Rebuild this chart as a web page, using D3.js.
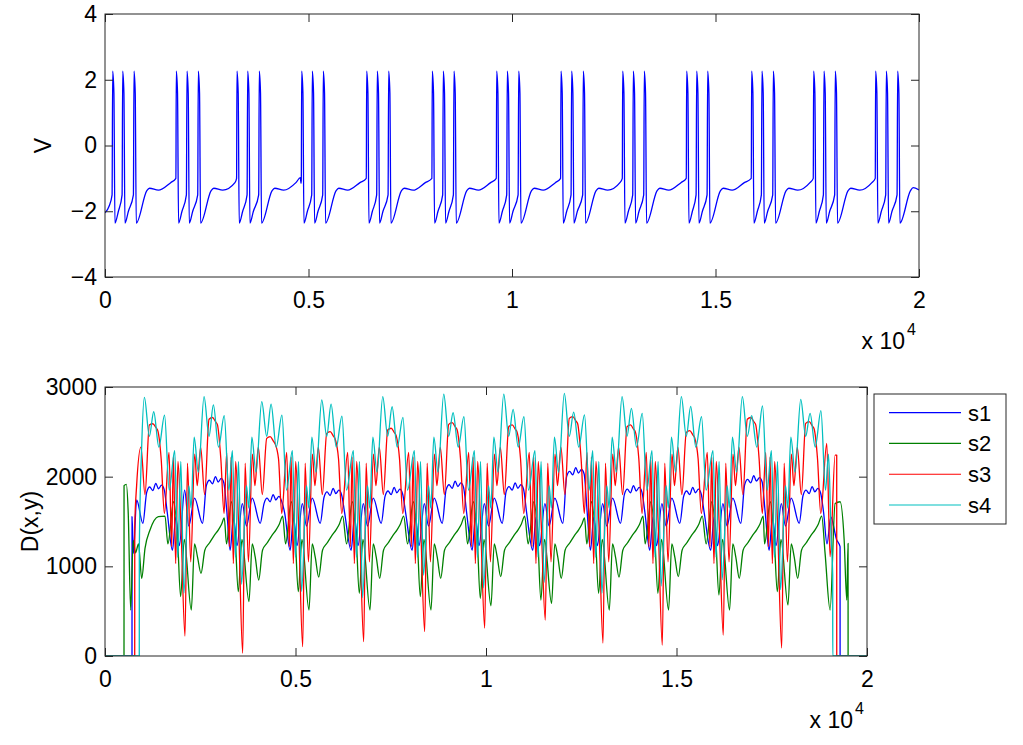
<!DOCTYPE html>
<html><head><meta charset="utf-8">
<script src="https://cdn.jsdelivr.net/npm/d3@7"></script>
<style>
body{margin:0;background:#fff;}
svg{display:block;font-family:"Liberation Sans",Arial,Helvetica,sans-serif;}
</style></head><body>
<svg id="chart" width="1023" height="745"></svg>
<script>
// ---------- data ----------
const xTickValues=[0,5000,10000,15000,20000];
const xTickLabels=["0","0.5","1","1.5","2"];
const vTickValues=[-4,-2,0,2,4];
const dTickValues=[0,1000,2000,3000];
const seriesNames=["s1","s2","s3","s4"];

const voltage=[
[0,-2.05],[100,-1.85],[174,-1.5],[189,2.26],[219,1.6],[244,-2.36],[329,-2.0],[420,-1.5],[435,2.26],[465,1.6],[490,-2.36],[575,-2.0],[698,-1.5],[713,2.26],[743,1.6],[768,-2.36],[1025,-1.38],[1093,-1.30],[1313,-1.36],[1613,-1.13],
[1742,-1.0],[1752,2.26],[1782,1.6],[1807,-2.36],[1892,-2.0],[2000,-1.5],[2015,2.26],[2045,1.6],[2070,-2.36],[2155,-2.0],[2278,-1.5],[2293,2.26],[2323,1.6],[2348,-2.36],[2605,-1.38],[2673,-1.30],[2893,-1.36],[3193,-1.13],
[3233,-1.0],[3243,2.26],[3273,1.6],[3298,-2.36],[3383,-2.0],[3491,-1.5],[3506,2.26],[3536,1.6],[3561,-2.36],[3646,-2.0],[3776,-1.5],[3791,2.26],[3821,1.6],[3846,-2.36],[4103,-1.38],[4171,-1.30],[4391,-1.36],[4691,-1.13],
[4800,-0.98],[4815,-1.15],[4823,-1.05],[4833,2.26],[4863,1.6],[4888,-2.36],[4973,-2.0],[5079,-1.5],[5094,2.26],[5124,1.6],[5149,-2.36],[5234,-2.0],[5349,-1.5],[5364,2.26],[5394,1.6],[5419,-2.36],[5676,-1.38],[5744,-1.30],[5964,-1.36],[6264,-1.13],
[6420,-1.0],[6430,2.26],[6460,1.6],[6485,-2.36],[6570,-2.0],[6675,-1.5],[6690,2.26],[6720,1.6],[6745,-2.36],[6830,-2.0],[6955,-1.5],[6970,2.26],[7000,1.6],[7025,-2.36],[7282,-1.38],[7350,-1.30],[7570,-1.36],[7870,-1.13],
[8032,-1.0],[8042,2.26],[8072,1.6],[8097,-2.36],[8182,-2.0],[8297,-1.5],[8312,2.26],[8342,1.6],[8367,-2.36],[8452,-2.0],[8560,-1.5],[8575,2.26],[8605,1.6],[8630,-2.36],[8887,-1.38],[8955,-1.30],[9175,-1.36],[9475,-1.13],
[9614,-1.0],[9624,2.26],[9654,1.6],[9679,-2.36],[9764,-2.0],[9870,-1.5],[9885,2.26],[9915,1.6],[9940,-2.36],[10025,-2.0],[10150,-1.5],[10165,2.26],[10195,1.6],[10220,-2.36],[10477,-1.38],[10545,-1.30],[10765,-1.36],[11065,-1.13],
[11194,-1.0],[11204,2.26],[11234,1.6],[11259,-2.36],[11344,-2.0],[11451,-1.5],[11466,2.26],[11496,1.6],[11521,-2.36],[11606,-2.0],[11737,-1.5],[11752,2.26],[11782,1.6],[11807,-2.36],[12064,-1.38],[12132,-1.30],[12352,-1.36],[12652,-1.13],
[12710,-1.0],[12720,2.26],[12750,1.6],[12775,-2.36],[12860,-2.0],[12966,-1.5],[12981,2.26],[13011,1.6],[13036,-2.36],[13121,-2.0],[13236,-1.5],[13251,2.26],[13281,1.6],[13306,-2.36],[13563,-1.38],[13631,-1.30],[13851,-1.36],[14151,-1.13],
[14282,-1.0],[14292,2.26],[14322,1.6],[14347,-2.36],[14432,-2.0],[14523,-1.5],[14538,2.26],[14568,1.6],[14593,-2.36],[14678,-2.0],[14793,-1.5],[14808,2.26],[14838,1.6],[14863,-2.36],[15120,-1.38],[15188,-1.30],[15408,-1.36],[15708,-1.13],
[15879,-1.0],[15889,2.26],[15919,1.6],[15944,-2.36],[16029,-2.0],[16127,-1.5],[16142,2.26],[16172,1.6],[16197,-2.36],[16282,-2.0],[16406,-1.5],[16421,2.26],[16451,1.6],[16476,-2.36],[16733,-1.38],[16801,-1.30],[17021,-1.36],[17321,-1.13],
[17402,-1.0],[17412,2.26],[17442,1.6],[17467,-2.36],[17552,-2.0],[17651,-1.5],[17666,2.26],[17696,1.6],[17721,-2.36],[17806,-2.0],[17928,-1.5],[17943,2.26],[17973,1.6],[17998,-2.36],[18255,-1.38],[18323,-1.30],[18543,-1.36],[18843,-1.13],
[18925,-1.0],[18935,2.26],[18965,1.6],[18990,-2.36],[19075,-2.0],[19182,-1.5],[19197,2.26],[19227,1.6],[19252,-2.36],[19337,-2.0],[19461,-1.5],[19476,2.26],[19506,1.6],[19531,-2.36],[19788,-1.38],[19856,-1.28],[20000,-1.35]
];

const s1=[
[0,0],[709,0],[710,1554],[744,1145],[831,1740],[994,1480],[1094,1825],[1174,1885],[1254,1845],[1334,1925],[1404,1865],[1484,1905],[1554,1855],[1634,1600],[1770,1180],[1860,1550],[1950,1230],
[2090,1850],[2200,1450],[2350,1760],[2560,1480],[2660,1900],[2740,1960],[2820,1920],[2900,2000],[2970,1940],[3050,1980],[3120,1930],[3200,1600],[3284,1180],[3374,1550],[3464,1230],
[3604,1700],[3714,1450],[3864,1760],[4074,1480],[4174,1700],[4254,1760],[4334,1720],[4414,1800],[4484,1740],[4564,1780],[4634,1730],[4714,1600],[4859,1180],[4949,1550],[5039,1230],
[5179,1700],[5289,1450],[5439,1760],[5649,1480],[5749,1770],[5829,1830],[5909,1790],[5989,1870],[6059,1810],[6139,1850],[6209,1800],[6289,1600],[6460,1180],[6550,1550],[6640,1230],
[6780,1700],[6890,1450],[7040,1760],[7250,1480],[7350,1780],[7430,1840],[7510,1800],[7590,1880],[7660,1820],[7740,1860],[7810,1810],[7890,1600],[8061,1180],[8151,1550],[8241,1230],
[8381,1700],[8491,1450],[8641,1760],[8851,1480],[8951,1850],[9031,1910],[9111,1870],[9191,1950],[9261,1890],[9341,1930],[9411,1880],[9491,1600],[9636,1180],[9726,1550],[9816,1230],
[9956,1700],[10066,1450],[10216,1760],[10426,1480],[10526,1830],[10606,1890],[10686,1850],[10766,1930],[10836,1870],[10916,1910],[10986,1860],[11066,1600],[11226,1180],[11316,1550],[11406,1230],
[11546,1700],[11656,1450],[11806,1760],[12016,1480],[12116,2000],[12196,2060],[12276,2020],[12356,2100],[12426,2040],[12506,2080],[12576,2030],[12656,1600],[12741,1180],[12831,1550],[12921,1230],
[13061,1700],[13171,1450],[13321,1760],[13531,1480],[13631,1800],[13711,1860],[13791,1820],[13871,1900],[13941,1840],[14021,1880],[14091,1830],[14171,1600],[14297,1180],[14387,1550],[14477,1230],
[14617,1700],[14727,1450],[14877,1760],[15087,1480],[15187,1780],[15267,1840],[15347,1800],[15427,1880],[15497,1820],[15577,1860],[15647,1810],[15727,1600],[15898,1180],[15988,1550],[16078,1230],
[16218,1700],[16328,1450],[16478,1760],[16688,1480],[16788,1910],[16868,1970],[16948,1930],[17028,2010],[17098,1950],[17178,1990],[17248,1940],[17328,1600],[17431,1180],[17521,1550],[17611,1230],
[17751,1700],[17861,1450],[18011,1760],[18221,1480],[18321,1790],[18401,1850],[18481,1810],[18561,1890],[18631,1830],[18711,1870],[18781,1820],[18861,1600],
[18950,1250],[19050,1550],[19200,1300],[19293,1220],[19294,0],[20000,0]
];

const s2=[
[0,0],[499,0],[500,1900],[560,1915],[610,1590],[674,513],[740,1290],[800,1150],[880,1250],[963,866],[1050,1200],[1181,1405],[1400,1554],[1575,1561],[1650,1250],[1800,1720],[1900,1350],
[1985,662],[2080,1300],[2265,513],[2350,1250],[2430,1100],[2520,922],[2620,1180],[2740,1260],[2860,1340],[2980,1410],[3060,1470],[3130,1540],[3190,1250],[3314,1720],[3414,1350],
[3499,717],[3594,1300],[3779,606],[3864,1250],[3944,1100],[4034,847],[4134,1180],[4254,1260],[4374,1340],[4494,1410],[4574,1470],[4664,1560],[4739,1250],[4889,1720],[4989,1350],
[5074,717],[5169,1300],[5354,513],[5439,1250],[5519,1100],[5609,880],[5709,1180],[5829,1260],[5949,1340],[6069,1410],[6149,1470],[6239,1560],[6340,1250],[6490,1720],[6590,1350],
[6675,700],[6770,1300],[6955,513],[7040,1250],[7120,1100],[7210,866],[7310,1180],[7430,1260],[7550,1340],[7670,1410],[7750,1470],[7840,1560],[7941,1250],[8091,1720],[8191,1350],
[8276,662],[8371,1300],[8556,513],[8641,1250],[8721,1100],[8811,866],[8911,1180],[9031,1260],[9151,1340],[9271,1410],[9351,1470],[9441,1560],[9516,1250],[9666,1720],[9766,1350],
[9851,643],[9946,1300],[10131,560],[10216,1250],[10296,1100],[10386,885],[10486,1180],[10606,1260],[10726,1340],[10846,1410],[10926,1470],[11016,1560],[11106,1250],[11256,1720],[11356,1350],
[11441,624],[11536,1300],[11721,587],[11806,1250],[11886,1100],[11976,866],[12076,1180],[12196,1260],[12316,1340],[12436,1410],[12516,1470],[12586,1540],[12646,1250],[12771,1720],[12871,1350],
[12956,700],[13051,1300],[13236,513],[13321,1250],[13401,1100],[13491,880],[13591,1180],[13711,1260],[13831,1340],[13951,1410],[14031,1470],[14121,1560],[14177,1250],[14327,1720],[14427,1350],
[14512,700],[14607,1300],[14792,513],[14877,1250],[14957,1100],[15047,885],[15147,1180],[15267,1260],[15387,1340],[15507,1410],[15587,1470],[15677,1560],[15778,1250],[15928,1720],[16028,1350],
[16113,680],[16208,1300],[16393,513],[16478,1250],[16558,1100],[16648,866],[16748,1180],[16868,1260],[16988,1340],[17108,1410],[17188,1470],[17278,1560],[17311,1250],[17461,1720],[17561,1350],
[17646,717],[17741,1300],[17926,569],[18011,1250],[18091,1100],[18181,866],[18281,1180],[18401,1260],[18521,1340],[18641,1410],[18721,1470],[18811,1560],
[18900,1145],[19031,513],[19163,1700],[19294,1720],[19400,1300],[19469,624],[19503,1256],[19504,0],[20000,0]
];

const s3=[
[0,0],[780,0],[781,1450],[830,1900],[944,2330],[1049,1800],[1164,2576],[1254,2590],[1339,2546],[1384,2516],[1474,2200],[1559,1590],[1680,2270],[1750,1220],[1795,2220],[1855,1030],[1915,2170],[1990,1500],
[2100,223],[2165,2150],[2250,1050],[2355,2250],[2420,1900],[2510,2330],[2615,1800],[2730,2640],[2820,2660],[2905,2610],[2950,2580],[3040,2200],[3125,1590],[3194,2270],[3264,1220],[3309,2220],[3369,1030],[3429,2170],[3504,1500],
[3614,33],[3679,2150],[3764,1050],[3869,2250],[3934,1900],[4024,2330],[4129,1800],[4244,2427],[4334,2447],[4419,2397],[4464,2367],[4554,2200],[4639,1590],[4769,2270],[4839,1220],[4884,2220],[4944,1030],[5004,2170],[5079,1500],
[5189,104],[5254,2150],[5339,1050],[5444,2250],[5509,1900],[5599,2330],[5704,1800],[5819,2483],[5909,2503],[5994,2453],[6039,2423],[6129,2200],[6214,1590],[6370,2270],[6440,1220],[6485,2220],[6545,1030],[6605,2170],[6680,1500],
[6790,160],[6855,2150],[6940,1050],[7045,2250],[7110,1900],[7200,2330],[7305,1800],[7420,2520],[7510,2540],[7595,2490],[7640,2460],[7730,2200],[7815,1590],[7971,2270],[8041,1220],[8086,2220],[8146,1030],[8206,2170],[8281,1500],
[8391,271],[8456,2150],[8541,1050],[8646,2250],[8711,1900],[8801,2330],[8906,1800],[9021,2583],[9111,2603],[9196,2553],[9241,2523],[9331,2200],[9416,1590],[9546,2270],[9616,1220],[9661,2220],[9721,1030],[9781,2170],[9856,1500],
[9966,312],[10031,2150],[10116,1050],[10221,2250],[10286,1900],[10376,2330],[10481,1800],[10596,2557],[10686,2577],[10771,2527],[10816,2497],[10906,2200],[10991,1590],[11136,2270],[11206,1220],[11251,2220],[11311,1030],[11371,2170],[11446,1500],
[11556,401],[11621,2150],[11706,1050],[11811,2250],[11876,1900],[11966,2330],[12071,1800],[12186,2650],[12276,2670],[12361,2620],[12406,2590],[12496,2200],[12581,1590],[12651,2270],[12721,1220],[12766,2220],[12826,1030],[12886,2170],[12961,1500],
[13071,145],[13136,2150],[13221,1050],[13326,2250],[13391,1900],[13481,2330],[13586,1800],[13701,2557],[13791,2577],[13876,2527],[13921,2497],[14011,2200],[14096,1590],[14207,2270],[14277,1220],[14322,2220],[14382,1030],[14442,2170],[14517,1500],
[14627,122],[14692,2150],[14777,1050],[14882,2250],[14947,1900],[15037,2330],[15142,1800],[15257,2494],[15347,2514],[15432,2464],[15477,2434],[15567,2200],[15652,1590],[15808,2270],[15878,1220],[15923,2220],[15983,1030],[16043,2170],[16118,1500],
[16228,234],[16293,2150],[16378,1050],[16483,2250],[16548,1900],[16638,2330],[16743,1800],[16858,2640],[16948,2660],[17033,2610],[17078,2580],[17168,2200],[17253,1590],[17341,2270],[17411,1220],[17456,2220],[17516,1030],[17576,2170],[17651,1500],
[17761,89],[17826,2150],[17911,1050],[18016,2250],[18081,1900],[18171,2330],[18276,1800],[18391,2594],[18481,2614],[18566,2564],[18611,2534],[18701,2200],[18786,1590],
[18944,2371],[19031,1108],[19163,2241],[19205,2241],[19206,0],[20000,0]
];

const s4=[
[0,0],[900,0],[901,1200],[960,2300],[1034,2885],[1164,2450],[1279,2724],[1414,2330],[1564,2687],[1684,1850],[1830,2290],[1910,1100],[1990,2170],
[2070,700],[2200,1900],[2260,1650],[2340,2440],[2450,2050],[2600,2892],[2730,2450],[2845,2800],[2980,2330],[3130,2680],[3250,1850],[3344,2290],[3424,1100],[3504,2170],
[3584,800],[3714,1900],[3774,1650],[3854,2440],[3964,2050],[4114,2836],[4244,2450],[4359,2810],[4494,2330],[4644,2687],[4764,1850],[4919,2290],[4999,1100],[5079,2170],
[5159,720],[5289,1900],[5349,1650],[5429,2440],[5539,2050],[5689,2855],[5819,2450],[5934,2810],[6069,2330],[6219,2676],[6339,1850],[6520,2290],[6600,1100],[6680,2170],
[6760,650],[6890,1900],[6950,1650],[7030,2440],[7140,2050],[7290,2892],[7420,2450],[7535,2780],[7670,2330],[7820,2661],[7940,1850],[8121,2290],[8201,1100],[8281,2170],
[8361,900],[8491,1900],[8551,1650],[8631,2440],[8741,2050],[8891,2921],[9021,2450],[9136,2713],[9271,2330],[9421,2669],[9541,1850],[9696,2290],[9776,1100],[9856,2170],
[9936,760],[10066,1900],[10126,1650],[10206,2440],[10316,2050],[10466,2921],[10596,2450],[10711,2750],[10846,2330],[10996,2669],[11116,1850],[11286,2290],[11366,1100],[11446,2170],
[11526,820],[11656,1900],[11716,1650],[11796,2440],[11906,2050],[12056,2929],[12186,2450],[12301,2720],[12436,2330],[12586,2690],[12706,1850],[12801,2290],[12881,1100],[12961,2170],
[13041,700],[13171,1900],[13231,1650],[13311,2440],[13421,2050],[13571,2892],[13701,2450],[13816,2762],[13951,2330],[14101,2706],[14221,1850],[14357,2290],[14437,1100],[14517,2170],
[14597,780],[14727,1900],[14787,1650],[14867,2440],[14977,2050],[15127,2892],[15257,2450],[15372,2784],[15507,2330],[15657,2669],[15777,1850],[15958,2290],[16038,1100],[16118,2170],
[16198,850],[16328,1900],[16388,1650],[16468,2440],[16578,2050],[16728,2892],[16858,2450],[16973,2680],[17108,2330],[17258,2788],[17378,1850],[17491,2290],[17571,1100],[17651,2170],
[17731,740],[17861,1900],[17921,1650],[18001,2440],[18111,2050],[18261,2862],[18391,2450],[18506,2706],[18641,2330],[18791,2736],[18911,1850],
[18990,2250],[19060,1300],[19100,900],[19101,0],[20000,0]
];

const seriesData=[s1,s2,s3,s4];
const seriesColors=["#0000ff","#008000","#ff0000","#00bfbf"];

// ---------- drawing ----------
const svg=d3.select("#chart");
const FONT=23;
const axisColor="#262626";
const topBox={l:105,r:919,t:14,b:277};
const botBox={l:105,r:867,t:387,b:656};

const xTop=d3.scaleLinear().domain([0,20000]).range([topBox.l,topBox.r]);
const yTop=d3.scaleLinear().domain([-4,4]).range([topBox.b,topBox.t]);
const xBot=d3.scaleLinear().domain([0,20000]).range([botBox.l,botBox.r]);
const yBot=d3.scaleLinear().domain([0,3000]).range([botBox.b,botBox.t]);

const defs=svg.append("defs");
function clip(id,b){
  defs.append("clipPath").attr("id",id).append("rect")
    .attr("x",b.l).attr("y",b.t).attr("width",b.r-b.l).attr("height",b.b-b.t);
}
clip("clipTop",topBox);clip("clipBot",botBox);

function styleAxis(sel){
  sel.attr("font-family",null).attr("font-size",null);
  sel.select(".domain").remove();
  sel.selectAll(".tick line").attr("stroke",axisColor).attr("stroke-width",1);
  sel.selectAll(".tick text").attr("fill","#000").style("font-size",FONT+"px");
}
function drawAxes(x,y,b,yTicks,yFmt){
  const g=svg.append("g");
  const T=8;
  g.append("g").attr("transform",`translate(0,${b.b})`)
    .call(d3.axisBottom(x).tickValues(xTickValues).tickFormat((d,i)=>xTickLabels[i]).tickSize(-T).tickPadding(15)).call(styleAxis);
  g.append("g").attr("transform",`translate(0,${b.t})`)
    .call(d3.axisTop(x).tickValues(xTickValues).tickFormat("").tickSize(-T)).call(styleAxis);
  g.append("g").attr("transform",`translate(${b.l},0)`)
    .call(d3.axisLeft(y).tickValues(yTicks).tickFormat(yFmt).tickSize(-T).tickPadding(8)).call(styleAxis);
  g.append("g").attr("transform",`translate(${b.r},0)`)
    .call(d3.axisRight(y).tickValues(yTicks).tickFormat("").tickSize(-T)).call(styleAxis);
  g.append("rect").attr("x",b.l).attr("y",b.t).attr("width",b.r-b.l).attr("height",b.b-b.t)
    .attr("fill","none").attr("stroke",axisColor).attr("stroke-width",1);
}

// top panel line
const lineTop=d3.line().x(d=>xTop(d[0])).y(d=>yTop(d[1])).curve(d3.curveMonotoneX);
svg.append("g").attr("clip-path","url(#clipTop)").append("path")
  .datum(voltage).attr("d",lineTop).attr("fill","none").attr("stroke","#0000ff").attr("stroke-width",1.3).attr("stroke-linejoin","round");
drawAxes(xTop,yTop,topBox,vTickValues,d=>d<0?"\u2212"+Math.abs(d):String(d));

// bottom panel lines
const lineBot=d3.line().x(d=>xBot(d[0])).y(d=>yBot(d[1])).curve(d3.curveMonotoneX);
const gb=svg.append("g").attr("clip-path","url(#clipBot)");
seriesData.forEach((s,i)=>{
  gb.append("path").datum(s).attr("d",lineBot).attr("fill","none")
    .attr("stroke",seriesColors[i]).attr("stroke-width",1.3).attr("stroke-linejoin","round");
});
drawAxes(xBot,yBot,botBox,dTickValues,d=>String(d));

// axis titles
svg.append("text").attr("transform",`translate(51,${(topBox.t+topBox.b)/2}) rotate(-90)`)
  .attr("text-anchor","middle").style("font-size",FONT+"px").text("V");
svg.append("text").attr("transform",`translate(38,${(botBox.t+botBox.b)/2}) rotate(-90)`)
  .attr("text-anchor","middle").style("font-size",FONT+"px").text("D(x,y)");

// exponent labels
function expLabel(xr,yb){
  svg.append("text").attr("x",xr).attr("y",yb).attr("text-anchor","end").style("font-size",FONT+"px").text("x 10");
  svg.append("text").attr("x",xr+2).attr("y",yb-14).style("font-size","16px").text("4");
}
expLabel(905,349);
expLabel(853,728);

// legend
const lg=svg.append("g");
lg.append("rect").attr("x",874).attr("y",394).attr("width",132).attr("height",130)
  .attr("fill","#fff").attr("stroke",axisColor).attr("stroke-width",1);
const rowY=d3.scalePoint().domain(seriesNames).range([412.7,505]);
seriesNames.forEach((n,i)=>{
  lg.append("line").attr("x1",889).attr("x2",961).attr("y1",rowY(n)).attr("y2",rowY(n))
    .attr("stroke",seriesColors[i]).attr("stroke-width",1.2);
  lg.append("text").attr("x",968).attr("y",rowY(n)).attr("dy","0.36em").style("font-size","22px").text(n);
});
</script>
</body></html>
